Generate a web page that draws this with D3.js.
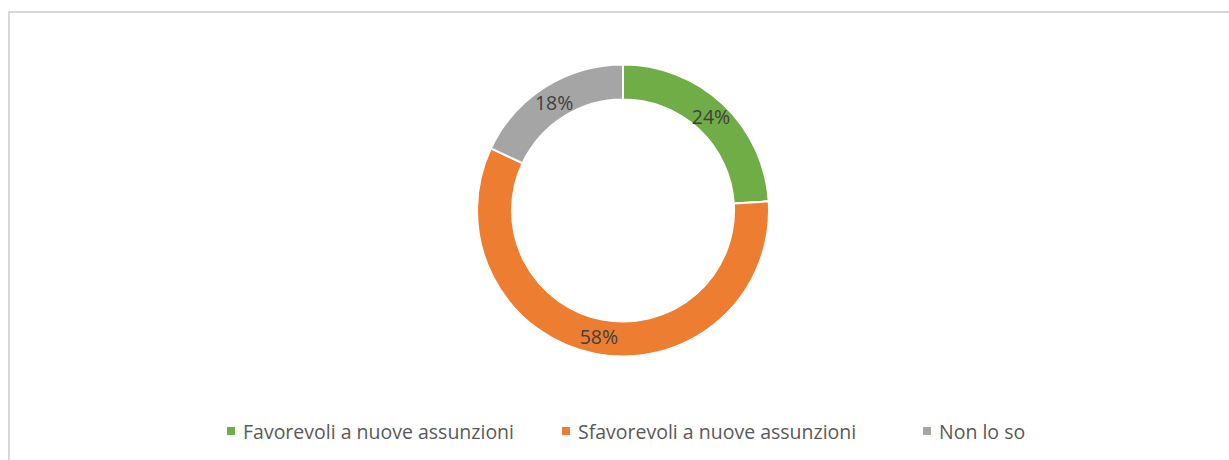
<!DOCTYPE html>
<html>
<head>
<meta charset="utf-8">
<script src="https://d3js.org/d3.v7.min.js"></script>
<style>
  body { margin: 0; background: #fff; }
  svg { display: block; }
  .lbl { font-family: "Open Sans", sans-serif; font-size: 19.5px; fill: #404040; }
  .leg { font-family: "Open Sans", sans-serif; font-size: 19.5px; fill: #595959; }
</style>
</head>
<body>
<script>
// data
var categories = ["Favorevoli a nuove assunzioni", "Sfavorevoli a nuove assunzioni", "Non lo so"];
var values = [24, 58, 18];
var colors = ["#70ad47", "#ed7d31", "#a5a5a5"];

// layout
var W = 1229, H = 460;
var cx = 623, cy = 210.5, outerR = 146, innerR = 111;
var legendY = 431;
var legendX = [227, 562, 923];

var svg = d3.select("body").append("svg")
  .attr("width", W)
  .attr("height", H);

// chart frame
svg.append("rect")
  .attr("x", 9).attr("y", 12)
  .attr("width", W + 20).attr("height", H + 20)
  .attr("fill", "none")
  .attr("stroke", "#d9d9d9")
  .attr("stroke-width", 2);

var data = categories.map(function (c, i) { return { name: c, value: values[i], color: colors[i] }; });

var pie = d3.pie().sort(null).value(function (d) { return d.value; });
var arc = d3.arc().innerRadius(innerR).outerRadius(outerR);

var g = svg.append("g").attr("transform", "translate(" + cx + "," + cy + ")");

var arcs = pie(data);

g.selectAll("path")
  .data(arcs)
  .enter().append("path")
  .attr("d", arc)
  .attr("fill", function (d) { return d.data.color; })
  .attr("stroke", "#fff")
  .attr("stroke-width", 2);

g.selectAll("text")
  .data(arcs)
  .enter().append("text")
  .attr("class", "lbl")
  .attr("transform", function (d) { return "translate(" + arc.centroid(d) + ")"; })
  .attr("text-anchor", "middle")
  .attr("dominant-baseline", "central")
  .text(function (d) { return d.data.value + "%"; });

// legend
var leg = svg.selectAll("g.legitem")
  .data(data)
  .enter().append("g")
  .attr("class", "legitem")
  .attr("transform", function (d, i) { return "translate(" + legendX[i] + "," + legendY + ")"; });

leg.append("rect")
  .attr("x", 0).attr("y", -4)
  .attr("width", 8).attr("height", 8)
  .attr("fill", function (d) { return d.color; });

leg.append("text")
  .attr("class", "leg")
  .attr("x", 16)
  .attr("dominant-baseline", "central")
  .text(function (d) { return d.name; });
</script>
</body>
</html>
